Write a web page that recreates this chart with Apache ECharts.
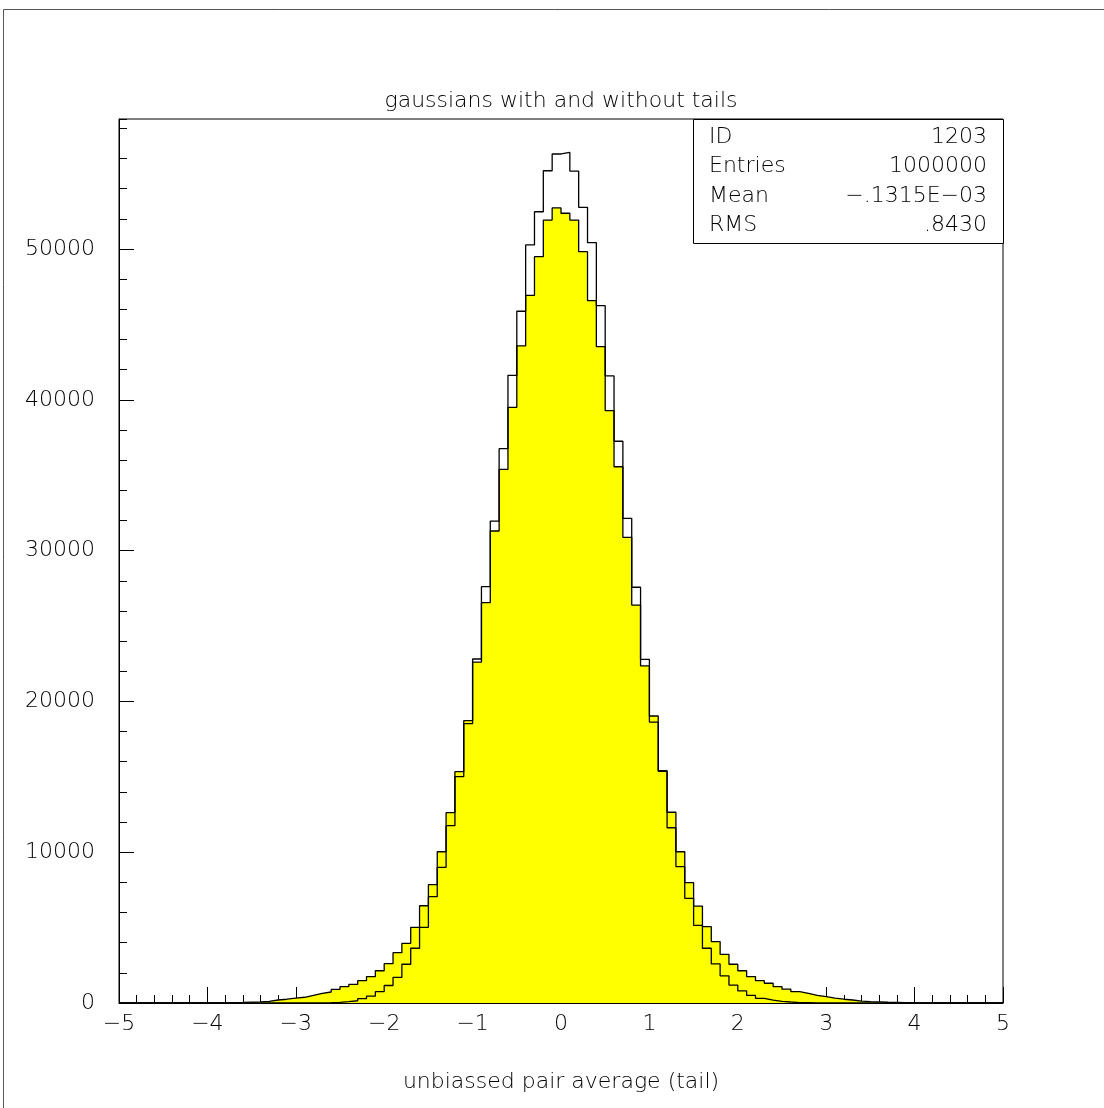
<!DOCTYPE html>
<html>
<head>
<meta charset="utf-8">
<script src="https://cdn.jsdelivr.net/npm/echarts@6/dist/echarts.min.js"></script>
<style>
  html, body { margin: 0; padding: 0; background: #fff; }
  #chart { width: 1104px; height: 1108px; }
</style>
</head>
<body>
<div id="chart"></div>
<script>
// histogram 1203: 100 bins of width 0.1 from -5 to 5
var xMin = -5;
var xMax = 5;
var binWidth = 0.1;

// gaussian with tails (yellow, filled)
var withTails = [
  0, 0, 0, 1, 1, 2, 3, 4, 6, 9,
  14, 20, 30, 40, 55, 70, 110, 200, 250, 330,
  380, 510, 640, 730, 900, 1080, 1230, 1480, 1750, 2140,
  2610, 3340, 3960, 5020, 6450, 7850, 10030, 12620, 15340, 18720,
  22610, 26550, 31300, 35390, 39500, 43570, 46930, 49490, 51920, 52720,
  52370, 51920, 49820, 46570, 43520, 39280, 35560, 30880, 26390, 22350,
  19030, 15400, 12650, 10030, 7980, 6430, 5060, 4070, 3230, 2570,
  2140, 1750, 1480, 1310, 1080, 920, 760, 640, 510, 420,
  330, 250, 200, 130, 90, 70, 50, 40, 30, 20,
  14, 9, 6, 4, 3, 2, 1, 1, 0, 0
];

// gaussian without tails (black outline)
var noTails = [
  0, 0, 0, 0, 0, 0, 0, 0, 0, 0,
  0, 0, 0, 0, 0, 0, 0, 0, 0, 0,
  0, 0, 10, 20, 40, 90, 150, 290, 460, 750,
  1160, 1700, 2570, 3630, 5020, 7050, 9000, 11760, 15010, 18520,
  22810, 27610, 31960, 36760, 41620, 45870, 50270, 52470, 55190, 56300,
  56410, 55170, 52760, 50420, 46240, 41580, 37250, 32140, 27570, 22790,
  18630, 15360, 11620, 9040, 6940, 5150, 3630, 2590, 1800, 1190,
  800, 500, 310, 190, 110, 65, 30, 20, 10, 0,
  0, 0, 0, 0, 0, 0, 0, 0, 0, 0,
  0, 0, 0, 0, 0, 0, 0, 0, 0, 0
];

var yMax = 58620;
var yTickStep = 10000;
var yMinorStep = 2000;
var xTickStep = 1;
var xMinorStep = 0.2;

var titleText = 'gaussians with and without tails';
var xName = 'unbiassed pair average (tail)';
var statNames = ['ID', 'Entries', 'Mean', 'RMS'];
var statValues = ['1203', '1000000', '\u2212.1315E\u221203', '.8430'];

var font = 'DejaVu Sans';
var fs = 22;

// step line points at the left edge of each bin, closed at xMax
function stepData(values) {
  var pts = [];
  for (var i = 0; i < values.length; i++) {
    pts.push([+(xMin + i * binWidth).toFixed(2), values[i]]);
  }
  pts.push([xMax, 0]);
  return pts;
}

function minus(v) {
  return String(v).replace('-', '\u2212');
}

var chart = echarts.init(document.getElementById('chart'));

var gLeft = 119, gTop = 119, gRight = 1003, gBottom = 1003;

var statsGraphic = [];
statsGraphic.push({
  type: 'rect',
  shape: { x: 693.5, y: 119.5, width: 310, height: 124 },
  style: { fill: '#fff', stroke: '#000', lineWidth: 1 },
  z: 10
});
for (var k = 0; k < statNames.length; k++) {
  var yy = 137 + k * 29.5;
  statsGraphic.push({
    type: 'text', x: 709, y: yy, z: 11,
    style: { text: statNames[k], fill: '#000', font: '200 ' + fs + 'px "' + font + '"', textAlign: 'left', textVerticalAlign: 'middle' }
  });
  statsGraphic.push({
    type: 'text', x: 987, y: yy, z: 11,
    style: { text: statValues[k], fill: '#000', font: '200 ' + fs + 'px "' + font + '"', textAlign: 'right', textVerticalAlign: 'middle' }
  });
}

var option = {
  animation: false,
  backgroundColor: '#fff',
  grid: {
    left: gLeft, top: gTop, right: 1104 - gRight, bottom: 1108 - gBottom,
    show: true, borderColor: '#000', borderWidth: 1, backgroundColor: 'transparent'
  },
  xAxis: [{
    type: 'value', min: xMin, max: xMax, interval: xTickStep,
    name: xName, nameLocation: 'middle', nameGap: 68,
    nameTextStyle: { fontFamily: font, fontWeight: 200, fontSize: fs, color: '#000' },
    axisLine: { show: true, onZero: false, lineStyle: { color: '#000', width: 1 } },
    axisTick: { show: true, inside: true, length: 16, lineStyle: { color: '#000' } },
    axisLabel: { show: true, margin: 10, fontFamily: font, fontWeight: 200, fontSize: fs, color: '#000', formatter: minus },
    splitLine: { show: false }
  }, {
    type: 'value', min: xMin, max: xMax, interval: xMinorStep, position: 'bottom',
    axisLine: { show: false, onZero: false },
    axisTick: { show: true, inside: true, length: 8, lineStyle: { color: '#000' } },
    axisLabel: { show: false },
    splitLine: { show: false }
  }],
  yAxis: [{
    type: 'value', min: 0, max: yMax, interval: yTickStep,
    axisLine: { show: true, onZero: false, lineStyle: { color: '#000', width: 1 } },
    axisTick: { show: true, inside: true, length: 15, lineStyle: { color: '#000' } },
    axisLabel: {
      show: true, margin: 24, showMaxLabel: false, fontFamily: font, fontWeight: 200, fontSize: fs, color: '#000',
      formatter: function (v) { return String(v); }
    },
    splitLine: { show: false }
  }, {
    type: 'value', min: 0, max: yMax, interval: yMinorStep, position: 'left',
    axisLine: { show: false, onZero: false },
    axisTick: { show: true, inside: true, length: 8, lineStyle: { color: '#000' } },
    axisLabel: { show: false },
    splitLine: { show: false }
  }],
  series: [{
    name: 'with tails',
    type: 'line', step: 'end', symbol: 'none',
    data: stepData(withTails),
    lineStyle: { color: '#000', width: 1.3 },
    areaStyle: { color: '#ffff00', opacity: 1 },
    z: 2
  }, {
    name: 'without tails',
    type: 'line', step: 'end', symbol: 'none',
    data: stepData(noTails),
    lineStyle: { color: '#000', width: 1.3 },
    z: 3
  }],
  graphic: [{
    type: 'rect',
    shape: { x: 3.5, y: 9.5, width: 1200, height: 1200 },
    style: { fill: 'none', stroke: '#555', lineWidth: 1 }
  }, {
    type: 'text', x: (gLeft + gRight) / 2, y: 101,
    style: { text: titleText, fill: '#000', font: '200 ' + fs + 'px "' + font + '"', textAlign: 'center', textVerticalAlign: 'middle' }
  }].concat(statsGraphic)
};

chart.setOption(option);
</script>
</body>
</html>
